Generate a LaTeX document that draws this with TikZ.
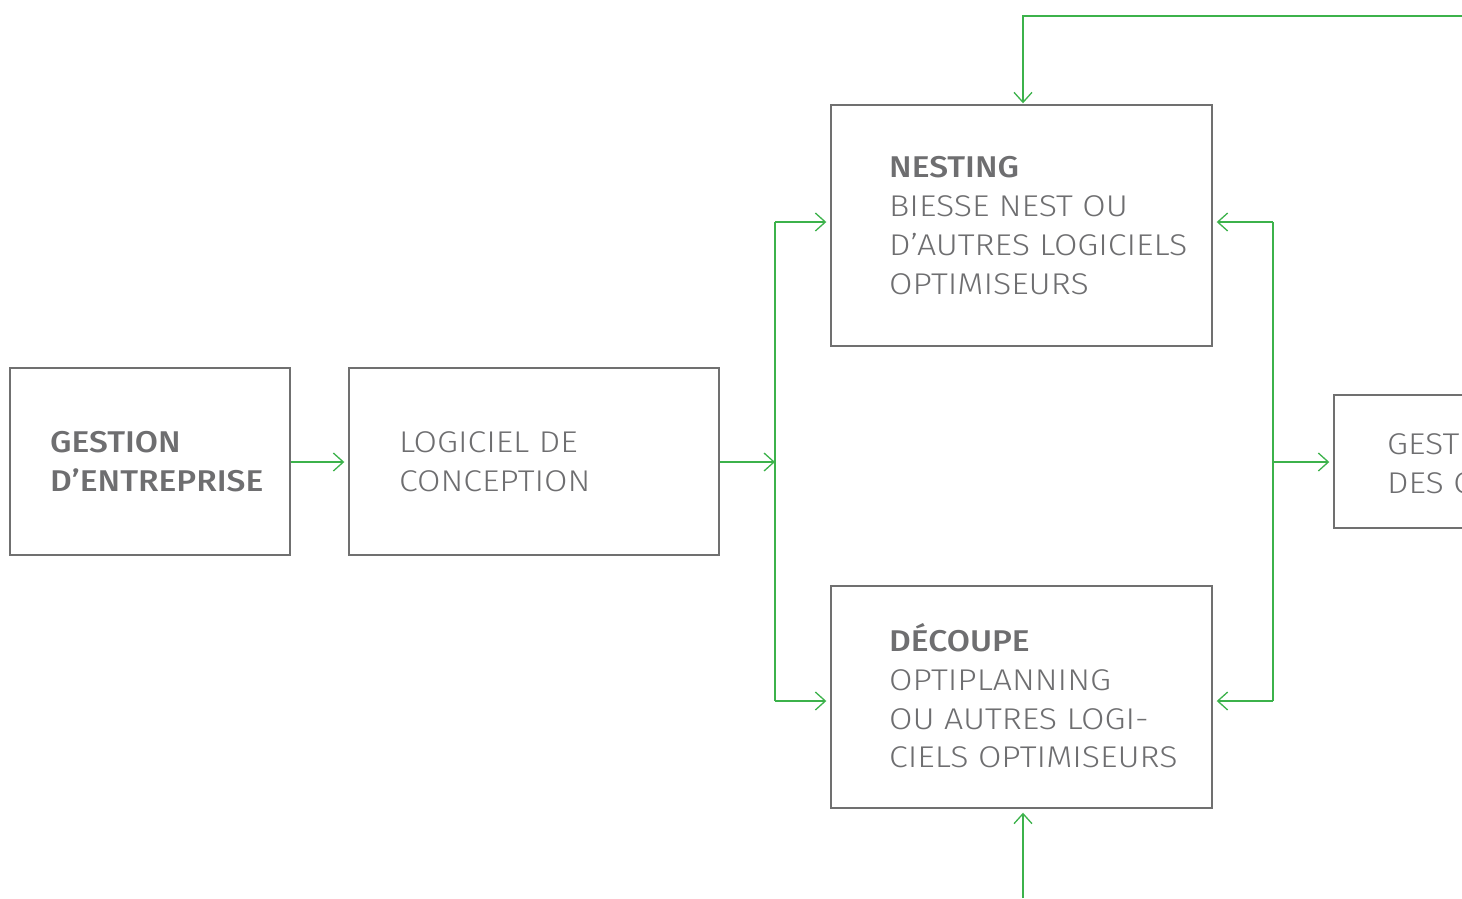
\documentclass[tikz,border=0pt]{standalone}
\usepackage{fontspec}
\IfFontExistsTF{Fira Sans Light}{%
  \setmainfont{Fira Sans Light}[FakeStretch=1.13, BoldFont={Fira Sans Medium}, BoldFeatures={FakeStretch=1.12}]}{%
  \setmainfont{Noto Sans}}
\usetikzlibrary{arrows.meta}
\definecolor{gr}{RGB}{60,178,75}
\definecolor{bx}{RGB}{112,112,112}
\definecolor{tx}{RGB}{110,110,112}
\tikzset{
  box/.style={draw=bx, line width=1.4pt, minimum width=#1, inner sep=0pt},
  gl/.style={draw=gr, line width=1.3pt},
  arr/.style={gl, -{Straight Barb[length=10pt,width=18pt,line width=1.3pt]}, shorten >=4pt},
  lbl/.style={anchor=base west, inner sep=0pt, text=tx, font=\fontsize{30}{38}\selectfont},
  lblb/.style={lbl, font=\fontsize{30}{38}\selectfont\bfseries}
}
\begin{document}
\begin{tikzpicture}[x=1pt,y=-1pt]
\useasboundingbox (0,0) rectangle (1462,898);
% boxes
\node[box=280pt, minimum height=187pt] (b1) at (150,461.5) {};
\node[box=370pt, minimum height=187pt] (b2) at (534,461.5) {};
\node[box=381pt, minimum height=241pt] (nest) at (1021.5,225.5) {};
\node[box=381pt, minimum height=222pt] (dec) at (1021.5,697) {};
\node[box=200pt, minimum height=133pt] (ges) at (1434,461.5) {};
% texts
\node[lblb] (t1a) at (50,452) {GESTION};
\node[lblb] (t1b) at (50,491) {D’ENTREPRISE};
\node[lbl] (t2a) at (399,452) {LOGICIEL DE};
\node[lbl] (t2b) at (399,491) {CONCEPTION};
\node[lblb] (t3a) at (889,177) {NESTING};
\node[lbl] (t3b) at (889,216) {BIESSE NEST OU};
\node[lbl] (t3c) at (889,255) {D’AUTRES LOGICIELS};
\node[lbl] (t3d) at (889,294) {OPTIMISEURS};
\node[lblb] (t4a) at (889,651) {DÉCOUPE};
\node[lbl] (t4b) at (889,690) {OPTIPLANNING};
\node[lbl] (t4c) at (889,729) {OU AUTRES LOGI-};
\node[lbl] (t4d) at (889,767) {CIELS OPTIMISEURS};
\node[lbl] (t5a) at (1387,454) {GEST};
\node[lbl] (t5b) at (1387,493) {DES C};
% junction coordinates
\coordinate (jl) at (775,462);
\coordinate (jlt) at (775,222);
\coordinate (jlb) at (775,701);
\coordinate (jr) at (1273,462);
\coordinate (jrt) at (1273,222);
\coordinate (jrb) at (1273,701);
\coordinate (top0) at (1462,16);
\coordinate (top1) at (1023,16);
\coordinate (bot0) at (1023,898);
% connectors
\draw[arr] (b1.east |- jl) -- (b2.west |- jl);
\draw[arr, shorten >=0pt] (b2.east |- jl) -- (jl);
\draw[gl] (jlt) -- (jlb);
\draw[arr] (jlt) -- (jlt -| nest.west);
\draw[arr] (jlb) -- (jlb -| dec.west);
\draw[gl] (jrt) -- (jrb);
\draw[arr] (jrt) -- (jrt -| nest.east);
\draw[arr] (jrb) -- (jrb -| dec.east);
\draw[arr] (jr) -- (jr -| ges.west);
\draw[arr, shorten >=1pt] (top0) -- (top1) -- (top1 |- nest.north);
\draw[arr] (bot0) -- (bot0 |- dec.south);
\end{tikzpicture}
\end{document}
